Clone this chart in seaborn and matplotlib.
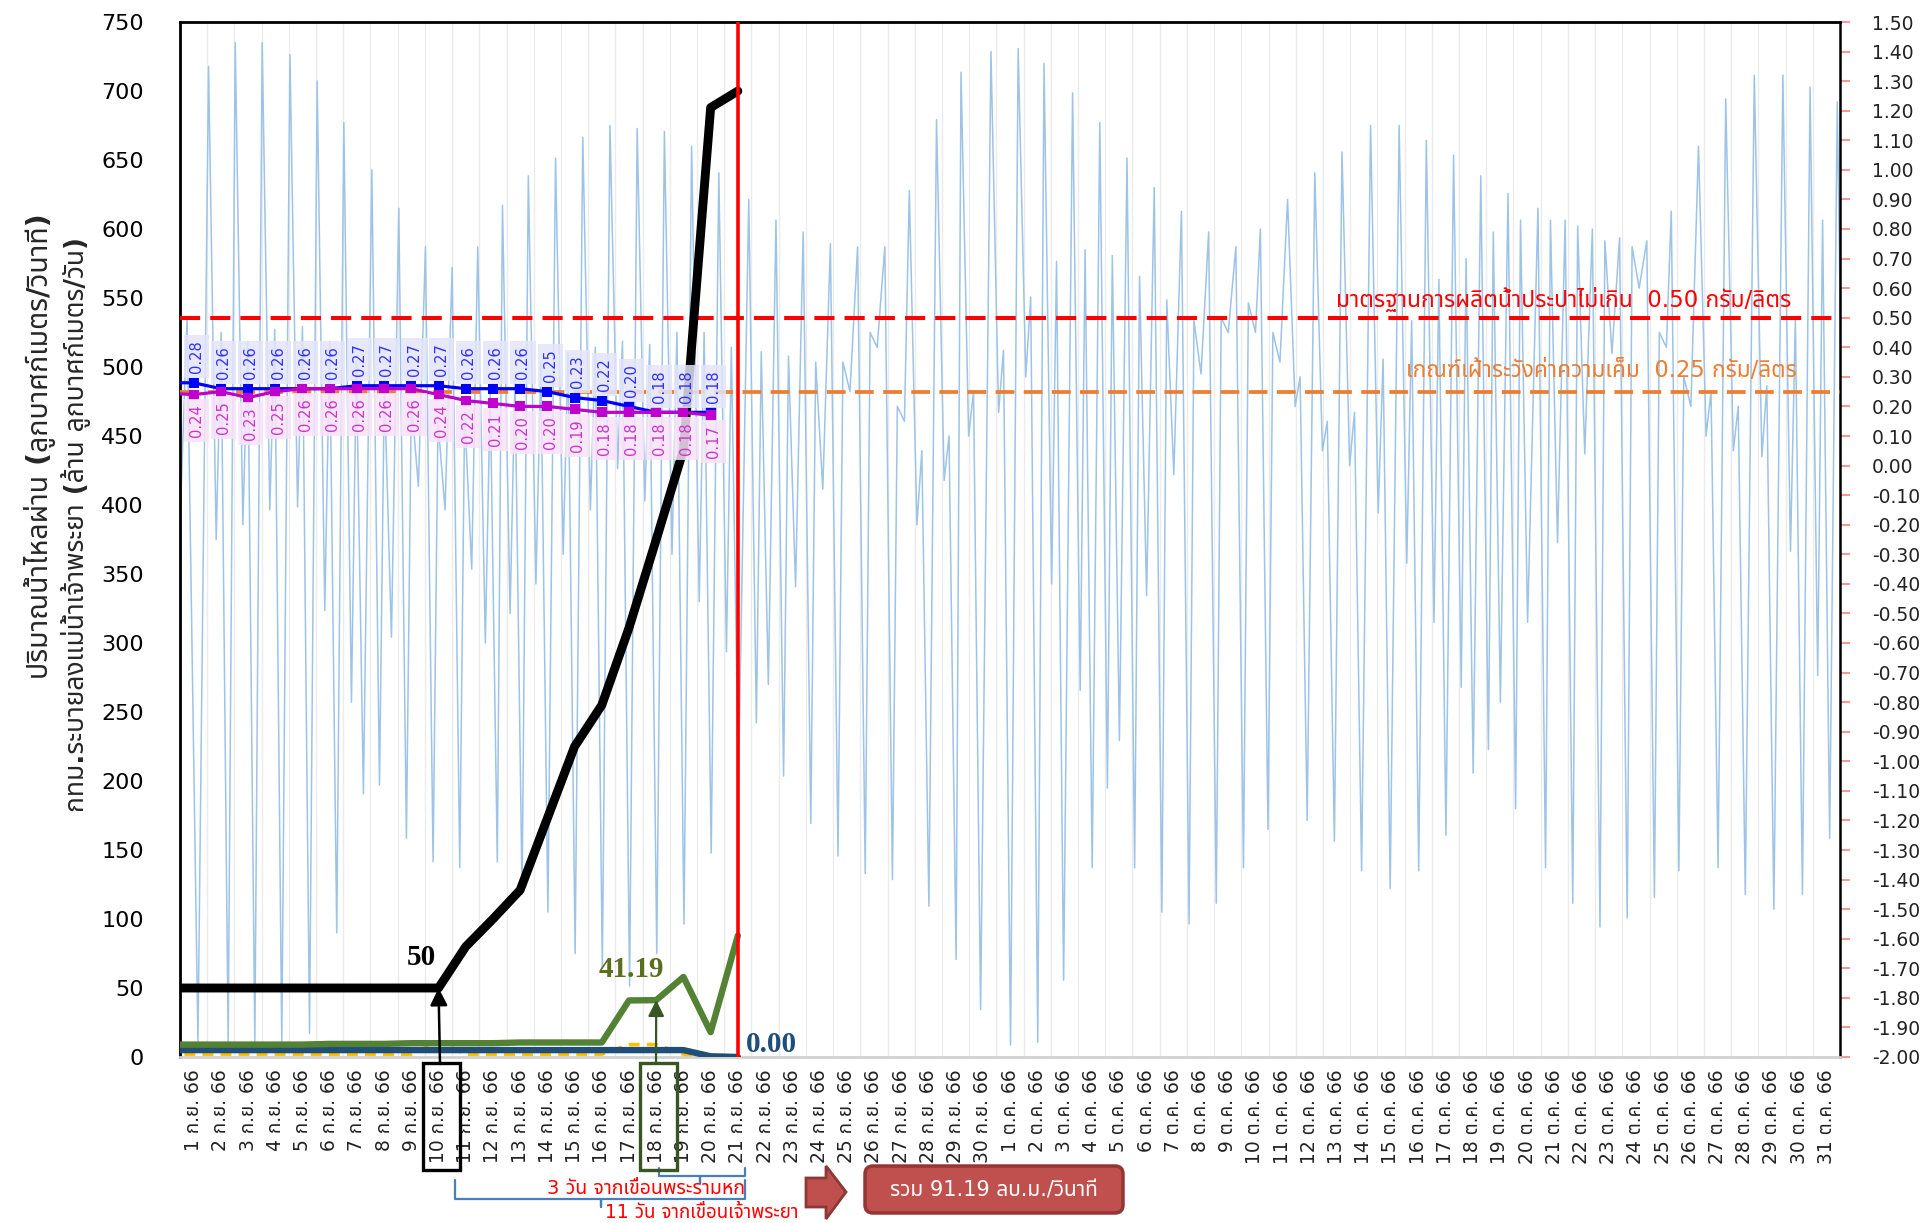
import numpy as np
import pandas as pd
import matplotlib
matplotlib.use("Agg")
import matplotlib.pyplot as plt
import matplotlib.transforms as mtransforms
from matplotlib.patches import Rectangle, FancyBboxPatch, Polygon
from matplotlib.lines import Line2D
from matplotlib import font_manager
import seaborn as sns

# ------------------------------------------------------------------ data
sep_labels = [f"{d} ก.ย. 66" for d in range(1, 31)]
oct_labels = [f"{d} ต.ค. 66" for d in range(1, 32)]
date_labels = sep_labels + oct_labels

# daily series, first entry = 31 ส.ค. 66, then 1..21 ก.ย. 66
flow_day = list(range(0, 22))
chao_phraya = [50, 50, 50, 50, 50, 50, 50, 50, 50, 50, 50, 80, 100, 121, 173, 225, 255, 311, 375, 440, 688, 700]
rama6 = [9, 9, 9, 9, 9, 9, 9.5, 9.5, 9.5, 10, 10, 10, 10, 10.5, 10.5, 10.5, 10.5, 41, 41.19, 58, 18, 88]
bkk_drain = [5, 5, 5, 5, 5, 5, 5, 5, 5, 5, 5, 5, 5, 5, 5, 5, 5, 5, 5, 5, 0.5, 0.0]
pasak = [2, 2, 2, 2, 2, 2, 2, 2, 2, 2, 11, 2, 2, 2, 2, 2, 2, 9, 9, 2, 1, 1]

# salinity (g/l), first entry = 31 ส.ค. 66, then 1..20 ก.ย. 66
sal_day = list(range(0, 21))
sal_station_a = [0.28, 0.28, 0.26, 0.26, 0.26, 0.26, 0.26, 0.27, 0.27, 0.27, 0.27,
                 0.26, 0.26, 0.26, 0.25, 0.23, 0.22, 0.20, 0.18, 0.18, 0.18]
sal_station_b = [0.245, 0.24, 0.25, 0.23, 0.25, 0.26, 0.26, 0.26, 0.26, 0.26, 0.24,
                 0.22, 0.21, 0.20, 0.20, 0.19, 0.18, 0.18, 0.18, 0.18, 0.17]

# tide level (m), turning points: higher high, low, lower high, low per cycle
tide_start_day = [0.0, 0.26, 0.66]
tide_start_level = [-0.20, 0.50, -1.95]
tide_turn_offset = [0.0, 0.28, 0.46, 0.72]
tide_hh_day = [1.05, 2.03, 3.02, 4.04, 5.04, 6.02, 7.05, 8.04, 9.02, 10.00,
               10.94, 11.85, 12.80, 13.80, 14.80, 15.80, 16.80, 17.80, 18.80, 19.80,
               20.90, 21.90, 22.90, 23.90, 24.90, 25.90, 26.80, 27.80, 28.70, 29.80,
               30.80, 31.75, 32.80, 33.80, 34.80, 35.80, 36.80, 37.80, 38.80, 39.70,
               40.70, 41.70, 42.70, 43.75, 44.80, 45.80, 46.80, 47.80, 48.80, 49.90,
               50.90, 51.90, 52.90, 53.90, 54.80, 55.80, 56.80, 57.85, 58.90, 59.90,
               60.90]
tide_hh = [1.35, 1.43, 1.43, 1.39, 1.30, 1.16, 1.00, 0.87, 0.74, 0.67,
           0.74, 0.88, 0.98, 1.04, 1.11, 1.15, 1.14, 1.13, 1.08, 0.99,
           0.90, 0.83, 0.79, 0.75, 0.74, 0.74, 0.93, 1.17, 1.33, 1.40,
           1.41, 1.36, 1.26, 1.16, 1.04, 0.94, 0.86, 0.79, 0.74, 0.80,
           0.90, 0.99, 1.06, 1.15, 1.15, 1.10, 1.05, 0.98, 0.92, 0.87,
           0.83, 0.80, 0.77, 0.76, 0.86, 1.08, 1.24, 1.32, 1.32, 1.28,
           1.23]
tide_low1 = [-0.25, -0.20, -0.15, -0.14, -0.49, -0.80, -1.08, -1.26, -1.34, -1.36,
             -0.60, -0.50, -0.40, -0.30, -0.15, -0.01, -0.12, -0.30, -0.46, -0.63,
             -0.87, -1.05, -1.21, -1.32, -1.38, -1.40, -0.20, -0.05, 0.10, 0.18,
             0.30, -0.40, -0.76, -1.09, -1.36, -1.51, -1.55, -1.48, -1.36, -1.23,
             0.20, 0.05, 0.00, -0.16, -0.33, -0.53, -0.75, -0.96, -1.16, -1.36,
             -1.48, -1.56, -1.53, -1.46, -1.37, 0.10, 0.05, 0.03, -0.29, -0.71,
             -0.60]
tide_high2 = [0.45, 0.42, 0.46, 0.47, 0.42, 0.35, 0.28, 0.22, 0.15, 0.18,
              0.25, 0.30, 0.35, 0.38, 0.40, 0.42, 0.41, 0.45, 0.45, 0.40,
              0.385, 0.37, 0.35, 0.35, 0.45, 0.20, 0.05, 0.10, 0.25, 0.39,
              0.57, 0.69, 0.73, 0.71, 0.64, 0.56, 0.49, 0.50, 0.55, 0.45,
              0.30, 0.15, 0.18, 0.36, 0.49, 0.63, 0.70, 0.79, 0.83, 0.83,
              0.81, 0.76, 0.74, 0.45, 0.30, 0.25, 0.20, 0.27, 0.50, 0.83,
              0.60]
tide_low2 = [-1.95, -1.95, -1.95, -1.92, -1.58, -1.11, -0.58, -0.07, -0.15, -0.35,
             -1.34, -1.45, -1.51, -1.65, -1.70, -1.76, -1.65, -1.55, -1.31, -1.06,
             -0.74, -0.41, -0.08, 0.25, 0.40, 0.15, -1.49, -1.67, -1.84, -1.96,
             -1.95, -1.74, -1.36, -0.93, -0.44, -0.03, 0.31, 0.45, 0.45, 0.35,
             -1.20, -1.27, -1.37, -1.43, -1.37, -1.25, -1.04, -0.80, -0.53, -0.26,
             0.04, 0.38, 0.60, 0.40, 0.20, -1.36, -1.45, -1.50, -1.45, -1.26,
             -1.00]

left_ticks = list(range(0, 751, 50))
right_ticks = [round(v / 10, 2) for v in range(-20, 16)]
highlight_days = [10, 18]
standard_limit = 0.50
watch_limit = 0.25

# ------------------------------------------------------------------ fonts
sns.set_style("white")


def find_thai_font():
    try:
        from fontTools.ttLib import TTFont
    except Exception:
        return None
    found = []
    for fe in font_manager.fontManager.ttflist:
        try:
            tt = TTFont(fe.fname, fontNumber=0, lazy=True)
            cmap = tt.getBestCmap() or {}
            if 0x0E01 in cmap and 0x0E32 in cmap and 0x0E48 in cmap:
                found.append(fe.name)
        except Exception:
            continue
    prefs = ["Tahoma", "Leelawadee UI", "Leelawadee", "Noto Sans Thai", "Noto Sans Thai UI",
             "Sarabun", "Loma", "Garuda", "Umpush", "Waree", "Kinnari", "Norasi"]
    for p in prefs:
        if p in found:
            return p
    return found[0] if found else None


thai = find_thai_font()
fam = ["DejaVu Sans"] + ([thai] if thai else [])
plt.rcParams["font.family"] = fam
plt.rcParams["axes.unicode_minus"] = False
serif = ["Liberation Serif", "DejaVu Serif"]

# ------------------------------------------------------------------ figure
W_PX, H_PX = 1921, 1223
AX_L, AX_R, AX_T, AX_B = 180, 1840, 22, 1057
fig = plt.figure(figsize=(W_PX / 100, H_PX / 100), dpi=100)
fig.patch.set_facecolor("white")
ax_t = fig.add_axes([AX_L / W_PX, 1 - AX_B / H_PX, (AX_R - AX_L) / W_PX, (AX_B - AX_T) / H_PX])
ax_f = ax_t.twinx()
ax_s = ax_t.twinx()
ax_t.set_zorder(1)
ax_f.set_zorder(2)
ax_s.set_zorder(3)
ax_f.patch.set_visible(False)
ax_s.patch.set_visible(False)

PIX = mtransforms.IdentityTransform()


def P(x, y):
    return (x, H_PX - y)


# tide (right scale)
t_list, v_list = list(tide_start_day), list(tide_start_level)
for T, hh, l1, h2, l2 in zip(tide_hh_day, tide_hh, tide_low1, tide_high2, tide_low2):
    for off, v in zip(tide_turn_offset, (hh, l1, h2, l2)):
        t_list.append(T + off)
        v_list.append(v)
tide_df = pd.DataFrame({"day": t_list, "level": v_list})
sns.lineplot(data=tide_df, x="day", y="level", ax=ax_t, color="#9DC3E6",
             lw=1.1, estimator=None, sort=False)

ax_t.axhline(standard_limit, color="#FF0000", lw=2.9, ls=(0, (5, 2.5)), zorder=3)
ax_t.axhline(watch_limit, color="#ED7D31", lw=2.7, ls=(0, (5, 2.5)), zorder=3)
ax_t.text(59.2, standard_limit + 0.06, "มาตรฐานการผลิตน้ำประปาไม่เกิน  0.50 กรัม/ลิตร",
          ha="right", va="center", color="#FF0000", fontsize=16.5, zorder=4)
ax_t.text(59.4, watch_limit + 0.07, "เกณฑ์เฝ้าระวังค่าความเค็ม  0.25 กรัม/ลิตร",
          ha="right", va="center", color="#ED7D31", fontsize=16.3, zorder=4)

# flows (left scale)
fx = [d - 0.5 for d in flow_day]
flow_df = pd.DataFrame({"x": fx, "chao": chao_phraya, "rama6": rama6,
                        "bkk": bkk_drain, "pasak": pasak})
sns.lineplot(data=flow_df, x="x", y="pasak", ax=ax_f, color="#FFC000", lw=2.6,
             linestyle=(0, (3, 2)), estimator=None, sort=False)
sns.lineplot(data=flow_df, x="x", y="bkk", ax=ax_f, color="#1F4E79", lw=4.6,
             estimator=None, sort=False)
sns.lineplot(data=flow_df, x="x", y="rama6", ax=ax_f, color="#548235", lw=4.6,
             estimator=None, sort=False)
sns.lineplot(data=flow_df, x="x", y="chao", ax=ax_f, color="black", lw=6.4,
             estimator=None, sort=False)
ax_f.axvline(fx[-1], color="#FF0000", lw=2.6, zorder=10)

i10 = flow_day.index(highlight_days[0])
i18 = flow_day.index(highlight_days[1])
ax_f.annotate(f"{chao_phraya[i10]:.0f}", (fx[i10], chao_phraya[i10]), xytext=(-12, 22),
              textcoords="offset points", ha="center", va="center", fontsize=21,
              fontweight="bold", family=serif, color="black")
ax_f.annotate(f"{rama6[i18]:.2f}", (fx[i18], rama6[i18]), xytext=(-18, 22),
              textcoords="offset points", ha="center", va="center", fontsize=21,
              fontweight="bold", family=serif, color="#5B6E1F")
ax_f.annotate(f"{bkk_drain[-1]:.2f}", (fx[-1], bkk_drain[-1]), xytext=(24, 9),
              textcoords="offset points", ha="center", va="center", fontsize=21,
              fontweight="bold", family=serif, color="#1F4E79")

# arrows from highlighted date labels
ax_f.annotate("", xy=(fx[i10], chao_phraya[i10]), xytext=P(440, 1064),
              textcoords="figure pixels", annotation_clip=False,
              arrowprops=dict(arrowstyle="-|>", color="black", lw=1.8,
                              mutation_scale=26, shrinkA=0, shrinkB=0))
ax_f.annotate("", xy=(fx[i18], rama6[i18]), xytext=P(656, 1064),
              textcoords="figure pixels", annotation_clip=False,
              arrowprops=dict(arrowstyle="-|>", color="#375623", lw=1.6,
                              mutation_scale=24, shrinkA=0, shrinkB=0))

# salinity (right scale)
sx = sal_day
sns.lineplot(x=sx, y=sal_station_a, ax=ax_s, color="#0000FF", lw=2.3, marker="s",
             markersize=6.5, markeredgewidth=0, estimator=None, sort=False)
sns.lineplot(x=sx, y=sal_station_b, ax=ax_s, color="#C000CC", lw=2.3, marker="s",
             markersize=6.5, markeredgewidth=0, estimator=None, sort=False)
ax_s.lines[0].set_xdata(np.array(sx) - 0.5)
ax_s.lines[1].set_xdata(np.array(sx) - 0.5)
for d, va_, vb_ in zip(sal_day[1:], sal_station_a[1:], sal_station_b[1:]):
    ax_s.annotate(f"{va_:.2f}", (d - 0.5, va_), xytext=(2, 7), textcoords="offset points",
                  rotation=90, ha="center", va="bottom", fontsize=10.5, color="#2F2FFF",
                  bbox=dict(boxstyle="square,pad=0.35", fc="#E3E5FA", ec="none", alpha=0.85))
    ax_s.annotate(f"{vb_:.2f}", (d - 0.5, vb_), xytext=(2, -7), textcoords="offset points",
                  rotation=90, ha="center", va="top", fontsize=10.5, color="#CC33CC",
                  bbox=dict(boxstyle="square,pad=0.35", fc="#F7E3F7", ec="none", alpha=0.85))

# ------------------------------------------------------------------ axes styling
ax_t.set_xlim(0, 61)
ax_t.set_ylim(-2, 1.5)
ax_f.set_ylim(0, 750)
ax_s.set_ylim(-2, 1.5)
for a in (ax_t, ax_f, ax_s):
    a.set_xlabel("")
    a.set_ylabel("")

ax_t.set_xticks(np.arange(61) + 0.5)
ax_t.set_xticklabels(date_labels, rotation=90, fontsize=13.5)
ax_t.set_xticks(np.arange(62), minor=True)
ax_t.tick_params(axis="x", which="major", length=0, pad=9, labelcolor="#222222")
ax_t.tick_params(axis="x", which="minor", length=7, width=1.5, color="#D0D0D0", direction="out")
ax_t.grid(axis="x", which="minor", color="#EBEBEB", lw=1)
ax_t.grid(axis="y", visible=False)

ax_t.yaxis.tick_right()
ax_t.yaxis.set_label_position("right")
ax_t.set_yticks(right_ticks)
ax_t.set_yticklabels([f"{v:.2f}" for v in right_ticks])
ax_t.tick_params(axis="y", which="major", right=True, left=False, labelright=True,
                 labelleft=False, length=7, width=1.2, color="#FF8080", pad=16,
                 labelsize=13.5, labelcolor="#222222", direction="out")

ax_f.yaxis.tick_left()
ax_f.yaxis.set_label_position("left")
ax_f.set_yticks(left_ticks)
ax_f.tick_params(axis="y", length=0, pad=26, labelsize=16, labelcolor="black")
ax_s.yaxis.set_visible(False)

for name, sp in ax_t.spines.items():
    sp.set_visible(True)
ax_t.spines["left"].set_color("black")
ax_t.spines["left"].set_linewidth(2)
ax_t.spines["top"].set_color("black")
ax_t.spines["top"].set_linewidth(2)
ax_t.spines["right"].set_color("black")
ax_t.spines["right"].set_linewidth(1.8)
ax_t.spines["bottom"].set_color("#D0D0D0")
ax_t.spines["bottom"].set_linewidth(2)
for a in (ax_f, ax_s):
    for sp in a.spines.values():
        sp.set_visible(False)

# ------------------------------------------------------------------ axis titles
fig.text(*P(40, 446), "ปริมาณน้ำไหลผ่าน (ลูกบาศก์เมตร/วินาที)", transform=PIX, rotation=90,
         ha="center", va="center", fontsize=20.5, fontweight="bold")
fig.text(*P(76, 524), "กทม.ระบายลงแม่น้ำเจ้าพระยา (ล้าน ลูกบาศก์เมตร/วัน)", transform=PIX,
         rotation=90, ha="center", va="center", fontsize=19, fontweight="bold")

# ------------------------------------------------------------------ decorations below axis
fig.patches.append(Rectangle(P(423, 1170), 37, 107, transform=PIX, fill=False,
                             ec="black", lw=2.4, zorder=5))
fig.patches.append(Rectangle(P(640, 1170), 37, 107, transform=PIX, fill=False,
                             ec="#375623", lw=2.4, zorder=5))


def brace(x0, x1, xc, y_top, y_mid, y_bot, color="#4A7EBB"):
    xs = [x0, x0, xc, xc, xc, x1, x1]
    ys = [y_top, y_mid, y_mid, y_bot, y_mid, y_mid, y_top]
    pts = [P(x, y) for x, y in zip(xs, ys)]
    fig.lines.append(Line2D([p[0] for p in pts], [p[1] for p in pts], transform=PIX,
                            color=color, lw=1.6))


brace(659, 745, 700, 1168, 1176, 1183)
brace(455, 745, 601, 1180, 1199, 1207)
fig.text(*P(646, 1189), "3 วัน จากเขื่อนพระรามหก", transform=PIX, ha="center", va="center",
         color="#FF0000", fontsize=14)
fig.text(*P(605, 1213), "11 วัน จากเขื่อนเจ้าพระยา", transform=PIX, ha="left", va="center",
         color="#FF0000", fontsize=13.5)

arrow_pts = [P(806, 1178), P(826, 1178), P(826, 1166), P(846, 1192), P(826, 1219),
             P(826, 1207), P(806, 1207)]
fig.patches.append(Polygon(arrow_pts, closed=True, transform=PIX, fc="#C0504D",
                           ec="#8C3836", lw=2, zorder=5))
bx0, by0 = P(865, 1213)
fig.patches.append(FancyBboxPatch((bx0, by0), 258, 47, transform=PIX,
                                  boxstyle="round,pad=0,rounding_size=8",
                                  fc="#C0504D", ec="#943634", lw=2.5, zorder=5))
fig.text(*P(994, 1190), "รวม 91.19 ลบ.ม./วินาที", transform=PIX, ha="center", va="center",
         color="white", fontsize=15, zorder=6)

fig.savefig("out.png", dpi=100)
